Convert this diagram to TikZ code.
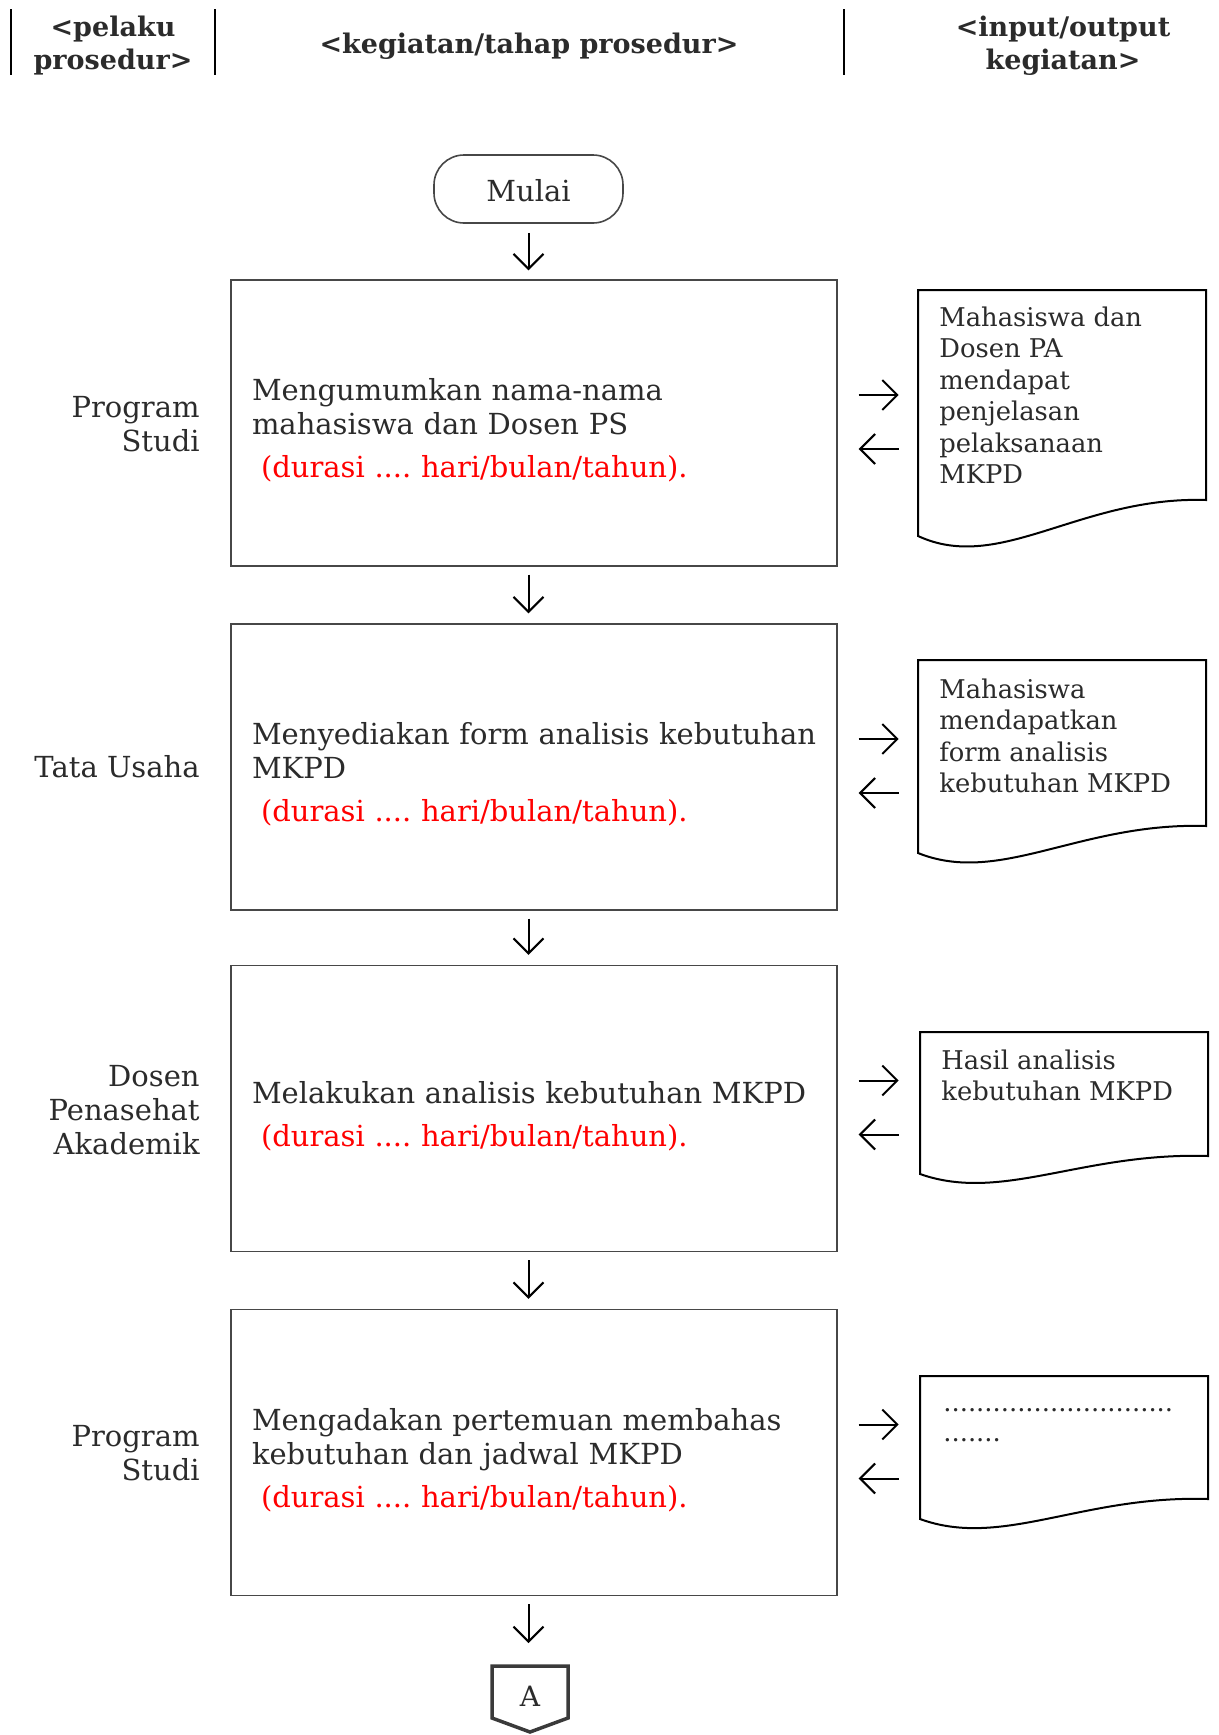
\documentclass[tikz,border=0pt]{standalone}
\usepackage{fontspec}
\setmainfont{DejaVu Serif}
\usetikzlibrary{arrows.meta}
\definecolor{txt}{HTML}{2B2B2B}
\definecolor{bord}{HTML}{474747}
\definecolor{conc}{HTML}{3A3A3A}
\frenchspacing
\newcommand{\topgap}{\rule{0pt}{18.5pt}}
\begin{document}
\begin{tikzpicture}[x=0.5pt,y=-0.5pt,
  boxfont/.style={font=\fontsize{14.5}{17}\selectfont\frenchspacing, text=txt},
  docfont/.style={font=\fontsize{12.9}{15.75}\selectfont, text=txt},
  hdr/.style={font=\fontsize{13.5}{16.5}\selectfont\bfseries, text=txt, align=center, inner sep=0pt},
  stepbox/.style={draw=bord, line width=0.7pt, minimum width=303pt, minimum height=143pt,
    text width=282pt, inner xsep=10.5pt, align=left, boxfont},
  lbl/.style={boxfont, align=right, anchor=east, inner sep=0pt},
  doctext/.style={docfont, anchor=base west, inner sep=0pt},
  docline/.style={draw=black, line width=1pt, line join=miter},
  arr/.style={line width=1pt, -{Straight Barb[length=7.5pt,width=15pt,line width=1pt]}},
  hline/.style={line width=1pt, draw=black}]
\useasboundingbox (0,0) rectangle (1219,1735);

% header
\draw[hline] (11,9) -- (11,75);
\draw[hline] (215,9) -- (215,75);
\draw[hline] (844,9) -- (844,75);
\node[hdr] (h1) at (113,45.5) {<pelaku\\prosedur>};
\node[hdr] (h2) at (529,46.5) {<kegiatan/tahap prosedur>};
\node[hdr] (h3) at (1063,45.5) {<input/output\\kegiatan>};

% start
\node[draw=bord, line width=0.8pt, rounded corners=15pt, minimum width=94.5pt,
  minimum height=34pt, boxfont] (mulai) at (528.5,189) {\rule{0pt}{13.2pt}Mulai};

% steps
\node[stepbox] (b1) at (534,423) {\topgap Mengumumkan nama-nama\\mahasiswa dan Dosen PS\\[4.5pt]\hspace*{4.5pt}\textcolor{red}{(durasi .... hari/bulan/tahun).}};
\node[stepbox] (b2) at (534,767) {\topgap\mbox{Menyediakan form analisis kebutuhan}\\MKPD\\[4.5pt]\hspace*{4.5pt}\textcolor{red}{(durasi .... hari/bulan/tahun).}};
\node[stepbox] (b3) at (534,1108.5) {\topgap\mbox{Melakukan analisis kebutuhan MKPD}\\[4.5pt]\hspace*{4.5pt}\textcolor{red}{(durasi .... hari/bulan/tahun).}};
\node[stepbox] (b4) at (534,1452.5) {\topgap Mengadakan pertemuan membahas\\kebutuhan dan jadwal MKPD\\[4.5pt]\hspace*{4.5pt}\textcolor{red}{(durasi .... hari/bulan/tahun).}};

% actors
\node[lbl] (p1) at (200,424.5) {Program\\Studi};
\node[lbl] (p2) at (200,766.5) {Tata Usaha};
\node[lbl] (p3) at (200,1110.5) {Dosen\\Penasehat\\Akademik};
\node[lbl] (p4) at (200,1453.5) {Program\\Studi};

% connector A
\coordinate (atop) at (530,1666);
\draw[draw=conc, line width=1.75pt, line join=miter]
  (492,1666) -- (568,1666) -- (568,1718) -- (530,1732) -- (492,1718) -- cycle;
\node[font=\fontsize{14}{17}\selectfont, text=txt, inner sep=0pt] (conA) at (530,1696) {A};

% vertical arrows
\draw[arr] ([yshift=-4.5pt]mulai.south) -- ([yshift=4.5pt]mulai.south |- b1.north);
\draw[arr] ([yshift=-4pt]mulai.south |- b1.south) -- ([yshift=5pt]mulai.south |- b2.north);
\draw[arr] ([yshift=-4pt]mulai.south |- b2.south) -- ([yshift=5pt]mulai.south |- b3.north);
\draw[arr] ([yshift=-4pt]mulai.south |- b3.south) -- ([yshift=5pt]mulai.south |- b4.north);
\draw[arr] ([yshift=-4pt]mulai.south |- b4.south) -- ([yshift=11.5pt]mulai.south |- atop);

% side arrows
\foreach \b in {b1,b2,b3,b4}{
  \draw[arr] ([xshift=10.5pt,yshift=14pt]\b.east) -- ++(40,0);
  \draw[arr] ([xshift=30.5pt,yshift=-13pt]\b.east) -- ++(-40,0);
}

% documents
\draw[docline] (918,290) -- (1206,290) -- (1206,500)
  .. controls (1080,496) and (1000,574) .. (918,536) -- cycle;
\draw[docline] (918,660) -- (1206,660) -- (1206,826)
  .. controls (1080,822) and (1000,886) .. (918,853) -- cycle;
\draw[docline] (920,1032) -- (1208,1032) -- (1208,1156)
  .. controls (1082,1152) and (1002,1203) .. (920,1174) -- cycle;
\draw[docline] (920,1376) -- (1208,1376) -- (1208,1499)
  .. controls (1082,1495) and (1002,1549) .. (920,1519) -- cycle;

\node[doctext] (d1) at (939,326) {\begin{tabular}[t]{@{}l@{}}Mahasiswa dan\\Dosen PA\\mendapat\\penjelasan\\pelaksanaan\\MKPD\end{tabular}};
\node[doctext] (d2) at (939,698) {\begin{tabular}[t]{@{}l@{}}Mahasiswa\\mendapatkan\\form analisis\\kebutuhan MKPD\end{tabular}};
\node[doctext] (d3) at (941,1069) {\begin{tabular}[t]{@{}l@{}}Hasil analisis\\kebutuhan MKPD\end{tabular}};
\node[doctext] (d4) at (943,1411) {\begin{tabular}[t]{@{}l@{}}............................\\[-0.75pt].......\end{tabular}};
\end{tikzpicture}
\end{document}
